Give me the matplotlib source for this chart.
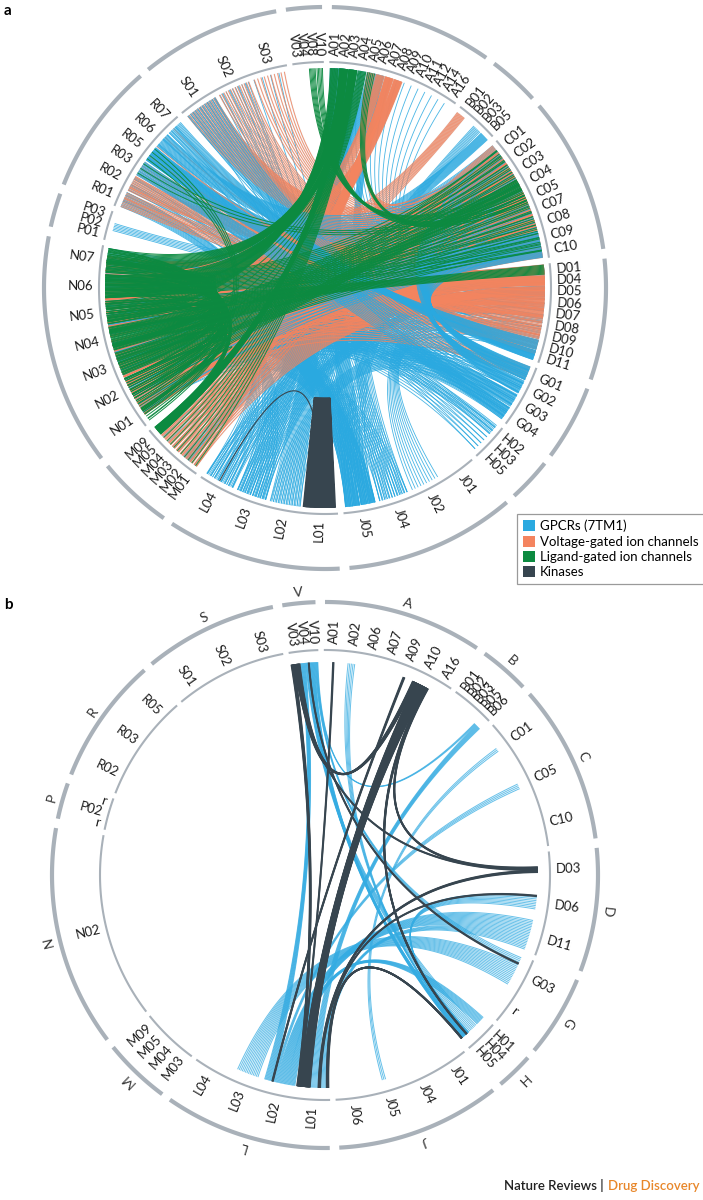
import numpy as np
import matplotlib
matplotlib.use('Agg')
import matplotlib.pyplot as plt
from matplotlib.collections import LineCollection
from matplotlib.patches import Patch

# ---------------------------------------------------------------- data
groups = ['A', 'B', 'C', 'D', 'G', 'H', 'J', 'L', 'M', 'N', 'P', 'R', 'S', 'V']

# panel a : sub-group labels per group (same order as groups)
a_sub = [
    ['A01', 'A02', 'A03', 'A04', 'A05', 'A06', 'A07', 'A08', 'A09', 'A10', 'A11', 'A12', 'A14', 'A16'],
    ['B01', 'B02', 'B03', 'B05'],
    ['C01', 'C02', 'C03', 'C04', 'C05', 'C07', 'C08', 'C09', 'C10'],
    ['D01', 'D04', 'D05', 'D06', 'D07', 'D08', 'D09', 'D10', 'D11'],
    ['G01', 'G02', 'G03', 'G04'],
    ['H02', 'H03', 'H05'],
    ['J01', 'J02', 'J04', 'J05'],
    ['L01', 'L02', 'L03', 'L04'],
    ['M01', 'M02', 'M03', 'M04', 'M05', 'M09'],
    ['N01', 'N02', 'N03', 'N04', 'N05', 'N06', 'N07'],
    ['P01', 'P02', 'P03'],
    ['R01', 'R02', 'R03', 'R05', 'R06', 'R07'],
    ['S01', 'S02', 'S03'],
    ['V03', 'V04', 'V08', 'V10'],
]
# group boundaries (degrees clockwise from top)
a_edges = [0.4, 36.0, 48.6, 83.0, 110.0, 127.6, 138.7, 176.0, 214.0, 231.7, 281.6, 290.6, 320.0, 351.0, 360.4]

# panel a bundles: (from, to, number of links); a single letter = spread over the whole group
a_gpcr = [
    ('R01', 'J05', 14), ('R02', 'H', 8), ('S02', 'J05', 10), ('A01', 'L03', 16), ('A02', 'J05', 18),
    ('A03', 'L02', 20), ('A05', 'N', 14), ('A06', 'J04', 12), ('A04', 'M', 8), ('B05', 'N', 16),
    ('B03', 'L04', 8), ('C01', 'N', 12), ('D01', 'N', 16), ('D05', 'L03', 12), ('D11', 'A', 16),
    ('G03', 'N', 20), ('G04', 'R', 16), ('G04', 'N', 12), ('J05', 'N', 22), ('J04', 'S', 12), ('J05', 'R', 12),
    ('J02', 'D', 10), ('L04', 'D', 14), ('L03', 'C', 12), ('L02', 'G', 12), ('L04', 'N', 10), ('N06', 'J05', 16),
    ('N07', 'D', 16), ('N04', 'H', 8), ('N02', 'G', 12), ('H02', 'N', 8), ('M02', 'C', 8), ('N05', 'L03', 10),
    ('N03', 'J04', 10), ('P02', 'D', 6), ('C03', 'L04', 8), ('C05', 'J05', 8), ('R05', 'D', 24),
    ('S01', 'D', 22),
]
# GPCR links drawn above the voltage-gated layer
a_gpcr_top = [
    ('R05', 'D10', 14), ('R03', 'G', 16), ('R06', 'C', 18), ('R07', 'D11', 14), ('S01', 'G', 12),
    ('C09', 'N', 18), ('C10', 'N', 18), ('G01', 'C', 24), ('G02', 'C', 20),
]
a_vgic = [
    ('C02', 'N', 36), ('C03', 'N', 36), ('C04', 'N', 26), ('C05', 'N', 36), ('C07', 'N', 32), ('C08', 'N', 36),
    ('C09', 'N', 28), ('C10', 'N', 26), ('D01', 'N', 28), ('D04', 'N', 30), ('D05', 'M', 20), ('D06', 'N', 18),
    ('D07', 'N', 16), ('D09', 'N', 10), ('D10', 'N', 10), ('D08', 'R', 8), ('A07', 'M', 22), ('A08', 'N', 20),
    ('A06', 'N', 12), ('S01', 'C', 20), ('S02', 'D', 14), ('S03', 'C', 10), ('R02', 'C', 12), ('R01', 'D', 10),
    ('G01', 'N', 12), ('B01', 'N', 10), ('C01', 'M', 10), ('A05', 'C', 8), ('R03', 'D', 8),
]
a_lgic = [
    ('N07', 'A02', 18), ('N06', 'A03', 18), ('N05', 'A01', 14), ('N04', 'C', 26), ('N03', 'C', 20),
    ('N06', 'C', 18), ('N05', 'D01', 10), ('N02', 'C04', 10), ('A02', 'M09', 20), ('A03', 'M', 12),
    ('A04', 'N', 10), ('N07', 'N', 14), ('N06', 'N', 14), ('N05', 'N', 12), ('N04', 'N', 12), ('N03', 'N', 10),
    ('N02', 'N', 10), ('N01', 'N', 10), ('N07', 'M09', 10), ('R05', 'N01', 4),
    ('V08', 'C04', 6), ('V10', 'C05', 5), ('A05', 'C05', 5), ('R03', 'C04', 3),
]
a_kin = [('L01', 'L01', 40), ('L04', 'L01', 1)]

# panel b
b_sub = [
    ['A01', 'A02', 'A06', 'A07', 'A09', 'A10', 'A16'],
    ['B01', 'B02', 'B03', 'B05', 'B06'],
    ['C01', 'C05', 'C10'],
    ['D03', 'D06', 'D11'],
    ['G03', 'r'],
    ['H01', 'H04', 'H05'],
    ['J01', 'J04', 'J05', 'J06'],
    ['L01', 'L02', 'L03', 'L04'],
    ['M03', 'M04', 'M05', 'M09'],
    ['N02'],
    ['r', 'P02', 'r'],
    ['R02', 'R03', 'R05'],
    ['S01', 'S02', 'S03'],
    ['V03', 'V04', 'V10'],
]
b_edges = [-1.0, 34.8, 47.5, 83.3, 111.6, 131.0, 141.0, 178.0, 215.6, 231.9, 280.9, 290.6, 319.6, 350.0, 359.0]

b_gpcr = [
    ('V04', 'L02', 10), ('V10', 'H05', 12), ('V04', 'H04', 6), ('B06', 'L01', 8), ('B06', 'V10', 3),
    ('C05', 'L02', 4), ('D11', 'L02', 14), ('G03', 'L03', 14), ('H01', 'L02', 10), ('D06', 'H05', 8),
    ('A02', 'H05', 5), ('V10', 'G03', 4), ('D11', 'L01', 6), ('C01', 'J05', 3),
]
b_kin = [
    ('A10', 'L01', 30), ('A10', 'V03', 10), ('A10', 'D03', 4), ('A10', 'H05', 5), ('A09', 'L02', 3),
    ('V03', 'L01', 6), ('A01', 'L01', 2), ('V03', 'D03', 2), ('D03', 'L01', 4), ('L01', 'H05', 6),
    ('D06', 'L01', 2), ('V04', 'G03', 2),
]

legend_names = ['GPCRs (7TM1)', 'Voltage-gated ion channels', 'Ligand-gated ion channels', 'Kinases']
col_gpcr, col_vgic, col_lgic, col_kin = '#2aa9e0', '#f4845f', '#0c8a40', '#37454f'
arc_col = '#a9b1b9'

FONT = ['Lato', 'DejaVu Sans']
plt.rcParams['font.family'] = FONT

fig = plt.figure(figsize=(7.03, 12.0), dpi=100)
ax = fig.add_axes([0, 0, 1, 1])
ax.set_xlim(0, 703)
ax.set_ylim(1200, 0)
ax.axis('off')


def pol(cx, cy, r, th):
    t = np.radians(th)
    return cx + r * np.sin(t), cy - r * np.cos(t)


def layout(subs, edges, pad=0.8):
    pos, placed = {}, []
    for gi, labs in enumerate(subs):
        a0, a1 = edges[gi] + pad, edges[gi + 1] - pad
        sw = (a1 - a0) / len(labs)
        for k, lab in enumerate(labs):
            th = a0 + (k + 0.5) * sw
            placed.append((lab, th))
            pos[lab] = (th, sw)
        pos[groups[gi]] = (0.5 * (a0 + a1), (a1 - a0))
    return pos, placed


def arc(cx, cy, r, a0, a1, lw):
    th = np.linspace(a0, a1, 120)
    x, y = pol(cx, cy, r, th)
    ax.plot(x, y, color=arc_col, lw=lw, solid_capstyle='butt', zorder=1)


def draw_ring(cx, cy, rin, rout, edges, placed, fs, lw_in, lw_out):
    for gi in range(len(groups)):
        arc(cx, cy, rin, edges[gi] + 0.7, edges[gi + 1] - 0.7, lw_in)
        arc(cx, cy, rout, edges[gi] + 1.0, edges[gi + 1] - 1.0, lw_out)
    for lab, th in placed:
        th360 = th % 360
        x, y = pol(cx, cy, rin + 6, th)
        if th360 < 180:
            rot, ha = 90 - th360, 'left'
        else:
            rot, ha = 270 - th360, 'right'
        ax.text(x, y, lab, rotation=rot, rotation_mode='anchor', ha=ha, va='center',
                fontsize=fs, color='#1c1c1c', zorder=5)


def draw_chords(cx, cy, rc, pos, classes, mode):
    allb = []
    for ci, cls in enumerate(classes):
        for (s, d, n) in cls[0]:
            allb.append((s, d, n * cls[6]))
    ends = {}
    for bid, (s, d, w) in enumerate(allb):
        ts, td = pos[s][0], pos[d][0]
        ends.setdefault(s, []).append(((td - ts) % 360, bid, 0, w))
        ends.setdefault(d, []).append(((ts - td) % 360, bid, 1, w))
    rng = {}
    for lab, lst in ends.items():
        th, sw = pos[lab]
        if mode == 'full' or len(lab) == 1:
            width = sw * 0.92
            for key, bid, side, w in lst:
                rng[(bid, side)] = (th - width / 2, th + width / 2)
        else:
            tot = sum(e[3] for e in lst)
            width = min(sw * 0.95, tot)
            lst.sort(key=lambda e: (-e[0], e[1], e[2]))
            cur = th - width / 2
            for key, bid, side, w in lst:
                ww = width * w / tot
                rng[(bid, side)] = (cur, cur + ww)
                cur += ww
    t = np.linspace(0, 1, 60)[:, None]
    c = np.array([cx, cy])
    bid = 0
    for blist, color, lw, alpha, z, under, kk in classes:
        segs = []
        for (s, d, n) in blist:
            r0, r1 = rng[(bid, 0)], rng[(bid, 1)]
            sa = r0[0] + (np.arange(n) + 0.5) * (r0[1] - r0[0]) / n
            da = r1[0] + (np.arange(n) + 0.5) * (r1[1] - r1[0]) / n
            if s == d:
                da = sa + 0.25
            else:
                da = da[::-1]
            for i in range(n):
                p0 = np.array(pol(cx, cy, rc, sa[i]))
                p2 = np.array(pol(cx, cy, rc, da[i]))
                pts = (1 - t) ** 2 * p0 + 2 * (1 - t) * t * c + t ** 2 * p2
                segs.append(pts)
            bid += 1
        if under:
            ax.add_collection(LineCollection(segs, colors=under, linewidths=lw + 0.5, alpha=0.2, zorder=z))
        ax.add_collection(LineCollection(segs, colors=color, linewidths=lw, alpha=alpha, zorder=z))


# ---------------------------------------------------------------- panel a
cxa, cya, rina, routa = 325, 288, 226, 281
pos_a, placed_a = layout(a_sub, a_edges)
draw_ring(cxa, cya, rina, routa, a_edges, placed_a, 9.5, 1.5, 3.0)
draw_chords(cxa, cya, rina - 6, pos_a, [
    (a_gpcr, col_gpcr, 0.6, 0.85, 2, None, 1),
    (a_vgic, col_vgic, 0.6, 0.9, 3, '#8f8f8f', 1),
    (a_gpcr_top, col_gpcr, 0.6, 0.9, 3.5, None, 1),
    (a_lgic, col_lgic, 0.7, 0.95, 4, None, 1),
    (a_kin, col_kin, 0.8, 1.0, 5, None, 1),
], 'full')

# ---------------------------------------------------------------- panel b
cxb, cyb, rinb, routb = 325, 875, 225, 273
pos_b, placed_b = layout(b_sub, b_edges)
draw_ring(cxb, cyb, rinb, routb, b_edges, placed_b, 9.5, 1.5, 3.0)
for gi, g in enumerate(groups):
    th = 0.5 * (b_edges[gi] + b_edges[gi + 1])
    x, y = pol(cxb, cyb, routb + 11, th)
    ax.text(x, y, g, rotation=-th, rotation_mode='anchor', ha='center', va='center',
            fontsize=10, color='#333333')
draw_chords(cxb, cyb, rinb - 12, pos_b, [
    (b_gpcr, '#35ace2', 0.7, 0.75, 2, None, 0.45),
    (b_kin, col_kin, 1.3, 1.0, 3, None, 0.15),
], 'count')

# ---------------------------------------------------------------- text
ax.text(4, 4, 'a', fontsize=11, fontweight='bold', va='top', ha='left')
ax.text(4, 598, 'b', fontsize=11, fontweight='bold', va='top', ha='left')

handles = [Patch(facecolor=c, edgecolor='none') for c in (col_gpcr, col_vgic, col_lgic, col_kin)]
leg = fig.legend(handles, legend_names, loc='upper left', bbox_to_anchor=(517 / 703, 1 - 514 / 1200),
                 fontsize=9.5, frameon=True, fancybox=False, edgecolor='#9a9a9a', framealpha=1,
                 handlelength=0.9, handleheight=0.9, handletextpad=0.4, borderpad=0.45,
                 labelspacing=0.25, borderaxespad=0)
leg.get_frame().set_linewidth(0.9)

t2 = ax.text(700, 1192, 'Drug Discovery', color='#e8872a', fontsize=9.5, ha='right', va='bottom',
             fontweight='semibold')
fig.canvas.draw()
bb = t2.get_window_extent()
x_left = ax.transData.inverted().transform((bb.x0, bb.y0))[0]
ax.text(x_left - 2, 1192, 'Nature Reviews | ', color='#222222', fontsize=9.5, ha='right', va='bottom',
        fontweight='semibold')

fig.savefig('out.png', dpi=100)
